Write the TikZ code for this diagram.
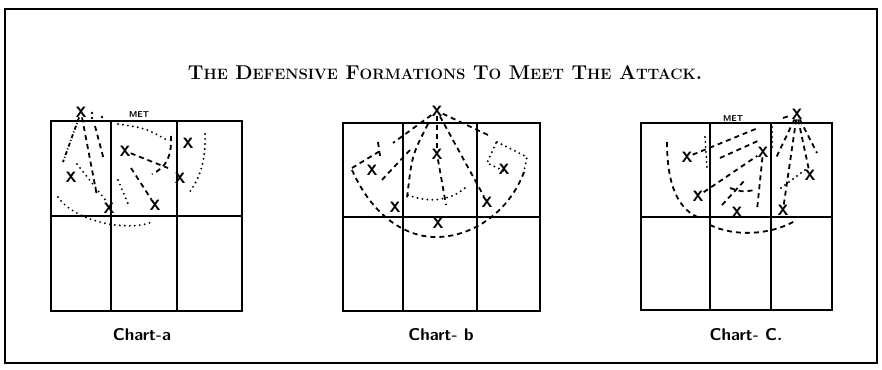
\documentclass[tikz,border=0pt]{standalone}
\newcommand\capword[2]{#1{\fontsize{15}{15}\selectfont #2}}
\begin{document}
\begin{tikzpicture}[x=1pt,y=-1pt,
  grd/.style={line width=1.6pt},
  frm/.style={line width=2.6pt},
  dsh/.style={line width=1.8pt,dash pattern=on 5pt off 4pt},
  dts/.style={line width=2.1pt,line cap=round,dash pattern=on 0pt off 5pt},
  xmk/.style={font=\sffamily\bfseries\fontsize{15}{15}\selectfont,inner sep=0pt},
  met/.style={font=\sffamily\bfseries\fontsize{8.5}{8.5}\selectfont,inner sep=0pt},
  lbl/.style={font=\sffamily\bfseries\fontsize{17}{17}\selectfont,inner sep=0pt}]
\useasboundingbox (0,0) rectangle (882,369);
%border and title
\draw[line width=2.4pt] (5,9) rectangle (877,363);
\node[font=\bfseries\fontsize{20}{21}\selectfont,inner sep=0pt] (title) at (445,73)
  {\capword{T}{HE} \capword{D}{EFENSIVE} \capword{F}{ORMATIONS} \capword{T}{O} \capword{M}{EET} \capword{T}{HE} \capword{A}{TTACK}.};
%chart a
\draw[frm] (51,121) rectangle (242,311);
\draw[grd] (111,121) -- (111,311) (177,121) -- (177,311) (51,216) -- (242,216);
\node[lbl] (laba) at (142,335) {Chart-a};
\node[met] (meta) at (139,115) {MET};
\node[xmk] (a0) at (81,112) {X};
\node[xmk] (a1) at (125,151) {X};
\node[xmk] (a2) at (71,177) {X};
\node[xmk] (a3) at (109,208) {X};
\node[xmk] (a4) at (155,205) {X};
\node[xmk] (a5) at (188,143) {X};
\node[xmk] (a6) at (180,178) {X};
\fill (92,113) circle (1.4) (92,118) circle (1.4) (102,117) circle (1.4);
\draw[dts] (58,197) .. controls (75,222) and (128,232) .. (152,222); %back
\draw[dsh,dash pattern=on 4pt off 2pt on 1pt off 2pt] (a0) -- (63,162);
\draw[dsh] (a0) -- (97,196);
\draw[dsh] (95,126) -- (104,160);
\draw[dts] (77,164) -- (107,202);
\draw[dts] (118,124) .. controls (145,128) .. (167,140);
\draw[dsh] (171,136) .. controls (172,158) and (165,168) .. (152,174);
\draw[dsh] (a1) -- (168,168);
\draw[dsh] (131,168) -- (a4);
\draw[dts] (118,180) -- (129,206);
\draw[dts] (205,134) .. controls (206,165) and (198,180) .. (189,193);
%chart b
\draw[frm] (343,123) rectangle (540,311);
\draw[grd] (403,123) -- (403,311) (477,123) -- (477,311) (343,217) -- (540,217);
\node[lbl] (labb) at (441,335) {Chart- b};
\node[xmk] (b0) at (437,111) {X};
\node[xmk] (b1) at (437,154) {X};
\node[xmk] (b2) at (372,170) {X};
\node[xmk] (b3) at (395,207) {X};
\node[xmk] (b4) at (504,169) {X};
\node[xmk] (b5) at (487,202) {X};
\node[xmk] (b6) at (438,223) {X};
\draw[dsh] (352,170) .. controls (372,215) and (405,238) .. (438,237) .. controls (475,236) and (510,210) .. (524,172); %back
\draw[dsh] (352,168) -- (380,151);
\draw[dsh] (378,142) -- (380,156);
\draw[dsh] (b0) -- (393,143);
\draw[dsh] (410,150) -- (380,182);
\draw[dsh] (428,124) .. controls (412,155) .. (407,198);
\draw[dsh] (b0) -- (b5);
\draw[dsh] (b0) -- (488,135);
\draw[dts] (497,142) -- (527,157) -- (523,176);
\draw[dts] (496,143) -- (487,163) -- (506,172);
\draw[dts] (408,195) .. controls (428,203) and (450,201) .. (465,188);
\draw[dsh] (b0) -- (b1);
\draw[dsh] (b1) -- (446,205);
%chart c
\draw[frm] (641,123) rectangle (832,310);
\draw[grd] (710,123) -- (710,310) (771,123) -- (771,310) (641,217) -- (832,217);
\node[lbl] (labc) at (746,335) {Chart- C.};
\node[met] (metc) at (733,119) {MET};
\node[xmk] (c0) at (797,114) {X};
\node[xmk] (c1) at (687,157) {X};
\node[xmk] (c2) at (698,196) {X};
\node[xmk] (c3) at (737,212) {X};
\node[xmk] (c4) at (763,152) {X};
\node[xmk] (c5) at (810,175) {X};
\node[xmk] (c6) at (783,210) {X};
\draw[dsh] (667,142) .. controls (667,185) and (678,210) .. (700,218);
\draw[dsh] (710,225) .. controls (735,237) and (770,235) .. (795,221); %back
\draw[dts] (705,137) -- (707,168);
\draw[dsh] (c1) -- (758,128);
\draw[dsh] (720,158) -- (760,140);
\draw[dsh] (c2) -- (c4);
\draw[dsh] (c4) -- (757,210);
\draw[dsh] (730,188) .. controls (742,192) .. (755,190);
\draw[dsh] (722,205) -- (745,180);
\draw[dsh] (c0) -- (817,153);
\draw[dsh] (c0) -- (c5);
\draw[dsh] (c0) -- (c6);
\draw[dsh] (c0) -- (775,160);
\draw[dts] (772,127) -- (772,147);
\draw[dts] (781,188) -- (805,170);
\draw[dsh] (783,118) -- (789,116);
\end{tikzpicture}
\end{document}
